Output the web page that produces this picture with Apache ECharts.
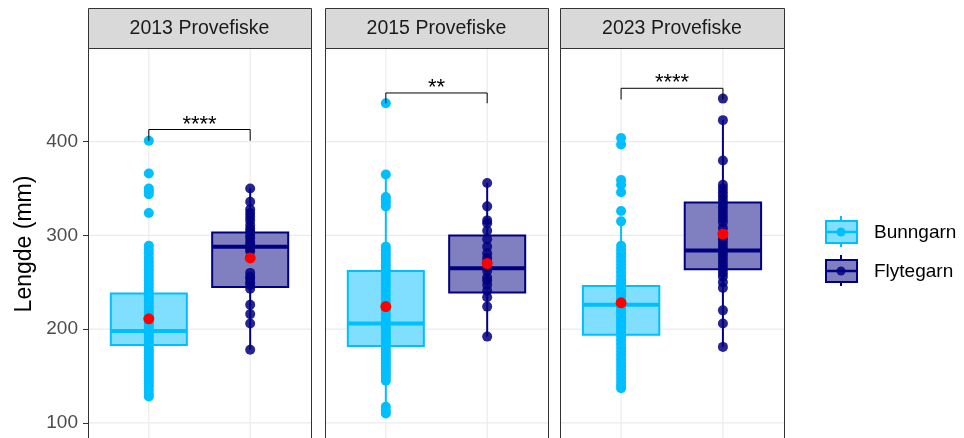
<!DOCTYPE html>
<html>
<head>
<meta charset="utf-8">
<script src="https://cdn.jsdelivr.net/npm/echarts@6/dist/echarts.min.js"></script>
<style>
  html, body { margin: 0; padding: 0; background: #ffffff; }
  #chart { width: 964px; height: 438px; }
</style>
</head>
<body>
<div id="chart"></div>
<script>
// ---- Data: fish lengths (mm) per survey and gear type ----
const panelTitles = ['2013 Provefiske', '2015 Provefiske', '2023 Provefiske'];
const groupNames = ['Bunngarn', 'Flytegarn'];
const yTicks = [100, 200, 300, 400];

const bunngarn2013 = [401, 366, 350, 347, 344, 324, 289, 285, 281, 276, 272, 268, 264, 260, 256, 252, 248, 244,
  240, 236, 233, 230, 227, 224, 221, 218, 215, 212, 209, 206, 203, 200, 198, 196, 193, 190, 187, 184, 181, 178,
  175, 172, 169, 166, 163, 160, 157, 154, 151, 148, 145, 142, 139, 135, 131, 128];
const flytegarn2013 = [350, 336, 328, 324, 320, 316, 311, 307, 304, 300, 297, 293, 290, 288, 286, 283, 260, 256,
  254, 250, 247, 243, 226, 216, 206, 178];

const bunngarn2015 = [441, 365, 341, 338, 335, 331, 288, 284, 280, 276, 272, 268, 264, 260, 256, 252, 248, 244,
  240, 236, 232, 228, 224, 220, 216, 212, 208, 205, 202, 199, 196, 193, 190, 187, 184, 181, 178, 175, 172, 169,
  166, 163, 160, 157, 154, 151, 148, 145, 117, 113, 110];
const flytegarn2015 = [356, 331, 316, 313, 305, 296, 288, 281, 276, 272, 266, 262, 255, 252, 247, 241, 234, 224, 192];

const bunngarn2023 = [404, 397, 359, 354, 346, 326, 315, 289, 285, 281, 277, 273, 269, 265, 261, 257, 253, 250,
  247, 244, 241, 238, 235, 232, 229, 226, 223, 220, 217, 214, 211, 208, 205, 202, 199, 196, 192, 188, 184, 180,
  176, 172, 168, 164, 160, 156, 152, 148, 144, 140, 137];
const flytegarn2023 = [446, 423, 380, 354, 350, 346, 342, 338, 334, 330, 326, 322, 318, 314, 308, 302, 296, 292,
  288, 284, 280, 276, 272, 268, 264, 260, 256, 250, 244, 220, 206, 181];

// Box summaries: [lower whisker, Q1, median, Q3, upper whisker]
const bunngarnBoxes = [[128, 183, 198, 238, 289], [110, 182, 206, 262, 365], [137, 194, 226, 246, 315]];
const flytegarnBoxes = [[178, 245, 288, 303, 350], [192, 239, 265, 300, 356], [181, 264, 284, 335, 423]];
const bunngarnMeans = [211, 224, 228];
const flytegarnMeans = [276, 270, 301.5];

// Significance brackets between the two gear types
const sigLabels = ['****', '**', '****'];
const bracketLevels = [413, 452, 457];
const bracketTips = [401, 441, 445];

// ---- Layout and style ----
const bunngarnPanels = [bunngarn2013, bunngarn2015, bunngarn2023];
const flytegarnPanels = [flytegarn2013, flytegarn2015, flytegarn2023];
const FONT = '"Liberation Sans", Arial, Helvetica, sans-serif';
const panelLeft = [88, 325, 560];
const panelWidth = [223, 223, 224];
const panelTop = 48;
const panelHeight = 390;          // panel runs to the bottom edge of the canvas
const pxPer100 = 93.7;
const Y_MAX = 500;
const Y_MIN = Y_MAX - panelHeight / pxPer100 * 100;

const gearStyle = [
  { line: '#00BFFF', fill: '#80DFFF', point: '#00BFFF', pointOpacity: 1 },
  { line: '#000080', fill: '#8080C0', point: '#000080', pointOpacity: 0.85 }
];

const chart = echarts.init(document.getElementById('chart'), null, { renderer: 'canvas' });

function boxRenderer(style) {
  return function (params, api) {
    const x = api.value(0);
    const lo = api.value(1), q1 = api.value(2), med = api.value(3), q3 = api.value(4), hi = api.value(5);
    const hw = 0.375;
    const xl = api.coord([x - hw, q3])[0];
    const xr = api.coord([x + hw, q3])[0];
    const xc = api.coord([x, q3])[0];
    const yHi = api.coord([x, hi])[1];
    const yQ3 = api.coord([x, q3])[1];
    const yMed = api.coord([x, med])[1];
    const yQ1 = api.coord([x, q1])[1];
    const yLo = api.coord([x, lo])[1];
    return {
      type: 'group',
      children: [
        { type: 'line', shape: { x1: xc, y1: yHi, x2: xc, y2: yQ3 }, style: { stroke: style.line, lineWidth: 2 } },
        { type: 'line', shape: { x1: xc, y1: yQ1, x2: xc, y2: yLo }, style: { stroke: style.line, lineWidth: 2 } },
        { type: 'rect', shape: { x: xl, y: yQ3, width: xr - xl, height: yQ1 - yQ3 },
          style: { fill: style.fill, stroke: style.line, lineWidth: 2 } },
        { type: 'line', shape: { x1: xl, y1: yMed, x2: xr, y2: yMed }, style: { stroke: style.line, lineWidth: 4 } }
      ]
    };
  };
}

const grids = [], xAxes = [], yAxes = [], series = [], graphics = [];

for (let i = 0; i < 3; i++) {
  grids.push({
    left: panelLeft[i], top: panelTop, width: panelWidth[i], height: panelHeight, show: false
  });
  xAxes.push({
    gridIndex: i, type: 'value', min: 0.4, max: 2.6, show: false
  });
  yAxes.push({
    gridIndex: i, type: 'value', min: Y_MIN, max: Y_MAX,
    axisLine: { show: false },
    axisTick: { show: i === 0, length: 5, customValues: yTicks, lineStyle: { color: '#333333', width: 1 } },
    axisLabel: {
      show: i === 0, customValues: yTicks, color: '#4d4d4d', fontSize: 19, fontFamily: FONT, margin: 10,
      formatter: v => (yTicks.indexOf(v) >= 0 ? String(v) : '')
    },
    splitLine: { show: false }
  });

  // panel grid lines: horizontal at the tick values, vertical at the two gear positions
  series.push({
    type: 'custom', xAxisIndex: i, yAxisIndex: i, z: 1, silent: true,
    data: yTicks.map(v => [0, v]).concat([[1, 0], [2, 0]]),
    renderItem: function (params, api) {
      let p0, p1;
      if (api.value(0) === 0) {
        p0 = api.coord([0.4, api.value(1)]);
        p1 = api.coord([2.6, api.value(1)]);
      } else {
        p0 = api.coord([api.value(0), Y_MIN]);
        p1 = api.coord([api.value(0), Y_MAX]);
      }
      return { type: 'line', shape: { x1: p0[0], y1: p0[1], x2: p1[0], y2: p1[1] },
        style: { stroke: '#ebebeb', lineWidth: 1.2 } };
    }
  });

  const boxes = [bunngarnBoxes[i], flytegarnBoxes[i]];
  const points = [bunngarnPanels[i], flytegarnPanels[i]];
  for (let g = 0; g < 2; g++) {
    series.push({
      type: 'custom', name: groupNames[g], xAxisIndex: i, yAxisIndex: i, z: 2, silent: true,
      data: [[g + 1].concat(boxes[g])],
      encode: { x: 0, y: [1, 2, 3, 4, 5] },
      renderItem: boxRenderer(gearStyle[g])
    });
  }
  for (let g = 0; g < 2; g++) {
    series.push({
      type: 'scatter', name: groupNames[g], xAxisIndex: i, yAxisIndex: i, z: 3, silent: true,
      symbolSize: 10,
      itemStyle: { color: gearStyle[g].point, opacity: gearStyle[g].pointOpacity },
      data: points[g].map(v => [g + 1, v])
    });
  }
  // group means
  series.push({
    type: 'scatter', xAxisIndex: i, yAxisIndex: i, z: 4, silent: true,
    symbolSize: 11,
    itemStyle: { color: '#FF0000', opacity: 1 },
    data: [[1, bunngarnMeans[i]], [2, flytegarnMeans[i]]]
  });
  // significance bracket
  series.push({
    type: 'custom', xAxisIndex: i, yAxisIndex: i, z: 5, silent: true,
    data: [[1, 2, bracketLevels[i], bracketTips[i]]],
    renderItem: (function (label) {
      return function (params, api) {
        const a = api.coord([api.value(0), api.value(2)]);
        const b = api.coord([api.value(1), api.value(2)]);
        const ta = api.coord([api.value(0), api.value(3)]);
        const tb = api.coord([api.value(1), api.value(3)]);
        return {
          type: 'group',
          children: [
            { type: 'polyline', shape: { points: [[ta[0], ta[1]], [a[0], a[1]], [b[0], b[1]], [tb[0], tb[1]]] },
              style: { stroke: '#000000', lineWidth: 1, fill: null } },
            { type: 'text', x: (a[0] + b[0]) / 2, y: a[1] + 6,
              style: { text: label, fill: '#000000', fontSize: 22, fontFamily: FONT,
                align: 'center', verticalAlign: 'bottom' } }
          ]
        };
      };
    })(sigLabels[i])
  });

  // panel border (continues past the bottom edge)
  graphics.push({
    type: 'rect', z: 10,
    shape: { x: panelLeft[i] + 0.5, y: panelTop + 0.5, width: panelWidth[i], height: panelHeight + 20 },
    style: { fill: null, stroke: '#333333', lineWidth: 1 }
  });
  // facet strip
  graphics.push({
    type: 'rect', z: 10,
    shape: { x: panelLeft[i] + 0.5, y: 8.5, width: panelWidth[i], height: 40 },
    style: { fill: '#d9d9d9', stroke: '#333333', lineWidth: 1 }
  });
  graphics.push({
    type: 'text', z: 11,
    x: panelLeft[i] + panelWidth[i] / 2, y: 29,
    style: { text: panelTitles[i], fill: '#1a1a1a', fontSize: 19.5, fontFamily: FONT,
      align: 'center', verticalAlign: 'middle' }
  });
}

// y-axis title
graphics.push({
  type: 'text', z: 11, x: 25, y: 244, rotation: Math.PI / 2,
  style: { text: 'Lengde (mm)', fill: '#000000', fontSize: 23, fontFamily: FONT,
    align: 'center', verticalAlign: 'middle' }
});

// legend keys drawn as miniature boxplots
const legendCenters = [232, 271];
for (let g = 0; g < 2; g++) {
  const cy = legendCenters[g];
  const st = gearStyle[g];
  graphics.push({
    type: 'group', z: 11,
    children: [
      { type: 'line', shape: { x1: 841, y1: cy - 16, x2: 841, y2: cy + 15 }, style: { stroke: st.line, lineWidth: 2 } },
      { type: 'rect', shape: { x: 826, y: cy - 11, width: 31, height: 22 },
        style: { fill: st.fill, stroke: st.line, lineWidth: 2 } },
      { type: 'line', shape: { x1: 826, y1: cy, x2: 857, y2: cy }, style: { stroke: st.line, lineWidth: 2.5 } },
      { type: 'circle', shape: { cx: 841, cy: cy, r: 4.5 }, style: { fill: st.point, opacity: st.pointOpacity } },
      { type: 'text', x: 874, y: cy + 1,
        style: { text: groupNames[g], fill: '#000000', fontSize: 19, fontFamily: FONT,
          align: 'left', verticalAlign: 'middle' } }
    ]
  });
}

chart.setOption({
  animation: false,
  backgroundColor: '#ffffff',
  grid: grids,
  xAxis: xAxes,
  yAxis: yAxes,
  series: series,
  graphic: graphics
});
</script>
</body>
</html>
